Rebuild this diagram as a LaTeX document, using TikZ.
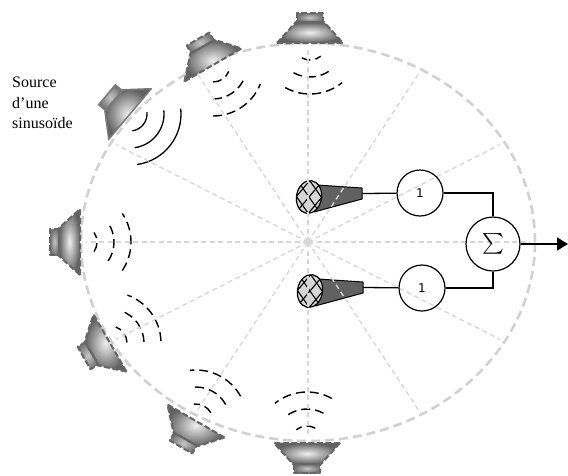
\documentclass[tikz,border=0pt]{standalone}
\usepackage{fontspec}
\usepackage{exscale}
\usetikzlibrary{arrows.meta,calc}
\newfontfamily\labelserif{Liberation Serif}
\newfontfamily\labelsans{DejaVu Sans}

\tikzset{
  rim/.style={draw=black!18, line width=2.6pt, dash pattern=on 9pt off 5pt},
  ray/.style={draw=black!16, line width=1.3pt, dash pattern=on 5pt off 3.5pt},
  spkline/.style={draw=black!60, line width=2pt, dash pattern=on 6pt off 2.5pt, line join=round},
  srcline/.style={draw=black!52, line width=1.5pt, line join=round},
  wave/.style={draw=black, line width=1.4pt, dash pattern=on 9pt off 5pt},
  srcwave/.style={draw=black, line width=1.3pt},
  gain/.style={circle, draw, line width=1.2pt, minimum size=46pt, inner sep=0pt,
    font=\labelsans\fontsize{12}{12}\selectfont},
  summer/.style={circle, draw, line width=1.2pt, minimum size=54pt, inner sep=0pt,
    font=\fontsize{21}{21}\selectfont},
  wire/.style={draw, line width=1.3pt},
  % loudspeaker: cone face on the local y axis, pointing along +x
  pics/speaker/.style n args={2}{code={
    \begin{scope}[rotate=#1]
      \shade[inner color=black!6, outer color=black!62]
        (0,-33) -- (-21,-14) -- (-21,14) -- (0,33) -- cycle;
      \shade[inner color=black!22, outer color=black!55]
        (-21,-13) rectangle (-30,13);
      \path[#2] (0,-33) -- (-21,-14) -- (-21,14) -- (0,33) -- cycle;
      \path[#2] (-21,-13) rectangle (-30,13);
    \end{scope}
  }},
  % sound waves in front of a speaker: direction, style, half opening
  pics/waves/.style n args={3}{code={
    \foreach \r in {17,34,51}
      \draw[#2] ({#1-#3}:\r) arc[start angle=#1-#3, end angle=#1+#3, radius=\r];
  }},
  % microphone: hatched head at the origin, handle to the right
  pics/mic/.style={code={
    \filldraw[fill=black!62, draw=black, line width=1pt, line join=round]
      (5,-15) -- (53,-2) -- (53,9) -- (8,12) -- cycle;
    \begin{scope}
      \path[clip, rotate=-10] (0,0) ellipse[x radius=12.5, y radius=16.5];
      \fill[black!16] (-20,-20) rectangle (20,20);
      \begin{scope}[rotate=35]
        \foreach \k in {-30,-20,...,30} \draw[line width=1.1pt] (\k,-25) -- (\k,25);
      \end{scope}
      \begin{scope}[rotate=-40]
        \foreach \k in {-30,-20,...,30} \draw[line width=1.1pt] (\k,-25) -- (\k,25);
      \end{scope}
    \end{scope}
    \draw[line width=1.2pt, rotate=-10] (0,0) ellipse[x radius=12.5, y radius=16.5];
    \coordinate (-tip) at (53,3.5);
  }},
}

\begin{document}
\begin{tikzpicture}[x=1pt,y=1pt]
  \useasboundingbox (0,0) rectangle (568,-475);
  \coordinate (ctr) at (308,-242);

  % circle of source positions
  \draw[rim] (ctr) ellipse[x radius=227, y radius=199];

  % loudspeakers around the circle
  \pic (s1) at (310,-43)  {speaker={-90}{spkline}};
  \pic (s2) at (213,-65)  {speaker={-60}{spkline}};
  \pic (s3) at (130,-114) {speaker={-40}{srcline}};
  \pic (s4) at (80,-242)  {speaker={0}{spkline}};
  \pic (s5) at (110,-343) {speaker={30}{spkline}};
  \pic (s6) at (196,-421) {speaker={60}{spkline}};
  \pic (s7) at (307,-443) {speaker={90}{spkline}};

  % emitted waves
  \pic at (310,-43)  {waves={-85}{wave}{34}};
  \pic at (213,-65)  {waves={-56}{wave}{34}};
  \pic at (130,-114) {waves={-38}{srcwave}{44}};
  \pic at (80,-242)  {waves={0}{wave}{34}};
  \pic at (110,-343) {waves={36}{wave}{34}};
  \pic at (196,-421) {waves={63}{wave}{34}};
  \pic at (307,-443) {waves={95}{wave}{34}};

  \node[anchor=north west, inner sep=0pt, align=left,
        font=\labelserif\fontsize{16}{20.5}\selectfont] (src) at (12,-77)
        {Source\\d’une\\sinusoïde};

  % microphones
  \pic (m1) at (309,-197) {mic};
  \pic (m2) at (310,-291) {mic};

  % radial directions
  \foreach \a in {0,30,...,330}
    \draw[ray] (ctr) -- ++({222*cos(\a)},{195*sin(\a)});

  % gains and summation
  \node[gain] (g1) at (420,-193) {1};
  \node[gain] (g2) at (422,-288) {1};
  \node[summer] (sum) at (493,-244) {$\sum$};
  \coordinate (out) at (568,-244);

  \draw[wire] (m1-tip) -- (g1);
  \draw[wire] (m2-tip) -- (g2);
  \draw[wire] (g1.east) -| (sum.north);
  \draw[wire] (g2.east) -| (sum.south);
  \draw[wire, -{Triangle[length=11pt, width=13pt]}] (sum.east) -- (out);
\end{tikzpicture}
\end{document}
